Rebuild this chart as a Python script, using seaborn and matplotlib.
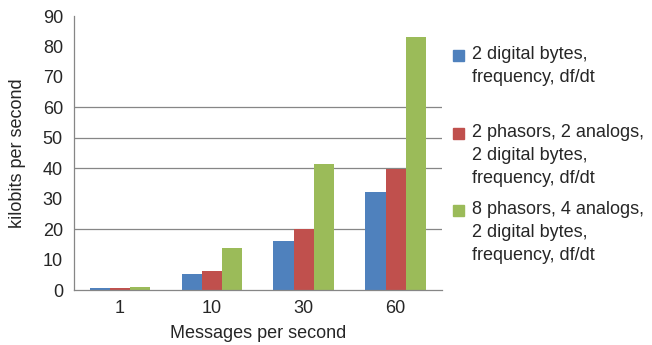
import pandas as pd
import seaborn as sns
import matplotlib.pyplot as plt
from matplotlib.patches import Rectangle

# --- Data ---
messages = ['1', '10', '30', '60']
series_names = [
    '2 digital bytes,\nfrequency, df/dt',
    '2 phasors, 2 analogs,\n2 digital bytes,\nfrequency, df/dt',
    '8 phasors, 4 analogs,\n2 digital bytes,\nfrequency, df/dt',
]
digital_only = [0.7, 5.3, 16.2, 32.2]
two_phasors = [0.7, 6.3, 19.9, 39.9]
eight_phasors = [1.0, 13.9, 41.4, 83.1]

colors = ['#4F81BD', '#C0504D', '#9BBB59']
grid_values = [20, 40, 50, 60]

FONT = 'Liberation Sans'
FS = 13

# --- Build long-form table ---
df = pd.DataFrame({
    'Messages per second': messages * 3,
    'kbps': digital_only + two_phasors + eight_phasors,
    'series': [series_names[0]] * 4 + [series_names[1]] * 4 + [series_names[2]] * 4,
})

sns.set_theme(style='white')
plt.rcParams['font.family'] = [FONT, 'DejaVu Sans']

fig = plt.figure(figsize=(6.52, 3.45), dpi=100)
ax = fig.add_axes([0.1135, 0.1594, 0.5639, 0.7942])

for g in grid_values:
    ax.axhline(g, color='#868686', linewidth=0.9, zorder=0)

sns.barplot(data=df, x='Messages per second', y='kbps', hue='series',
            palette=colors, width=0.66, gap=0, saturation=1,
            edgecolor='none', linewidth=0, legend=False, ax=ax, zorder=2)

ax.set_ylim(0, 90)
ax.set_xlim(-0.5, 3.5)
ax.set_yticks(range(0, 91, 10))
ax.set_xticks([-0.5, 0.5, 1.5, 2.5, 3.5], minor=False)
ax.set_xticklabels([])
ax.set_xticks(range(4), minor=True)
ax.set_xticklabels(messages, minor=True)
ax.tick_params(axis='x', which='major', length=5, color='#868686', width=0.9, direction='out')
ax.tick_params(axis='x', which='minor', length=0, labelsize=FS, pad=7)
ax.tick_params(axis='y', length=0, labelsize=FS, pad=8)

for side in ['top', 'right']:
    ax.spines[side].set_visible(False)
ax.spines['left'].set_color('#868686')
ax.spines['bottom'].set_color('#868686')
ax.spines['left'].set_linewidth(0.9)
ax.spines['bottom'].set_linewidth(0.9)

ax.set_xlabel('Messages per second', fontsize=FS, labelpad=6)
ax.set_ylabel('kilobits per second', fontsize=FS, labelpad=12)

# --- Legend drawn by hand so multi-line labels sit like the original ---
entry_tops = [55, 133, 210]  # pixel y of first text line centre
W, H = 652, 345
for name, col, ytop in zip(series_names, colors, entry_tops):
    fig.patches.append(Rectangle((453 / W, 1 - (ytop + 6) / H), 11 / W, 11 / H,
                                 transform=fig.transFigure, color=col, figure=fig))
    fig.text(472 / W, 1 - (ytop - 9) / H, name, fontsize=FS, va='top', ha='left',
             linespacing=1.45)

plt.savefig('out.png', dpi=100)
plt.close()
